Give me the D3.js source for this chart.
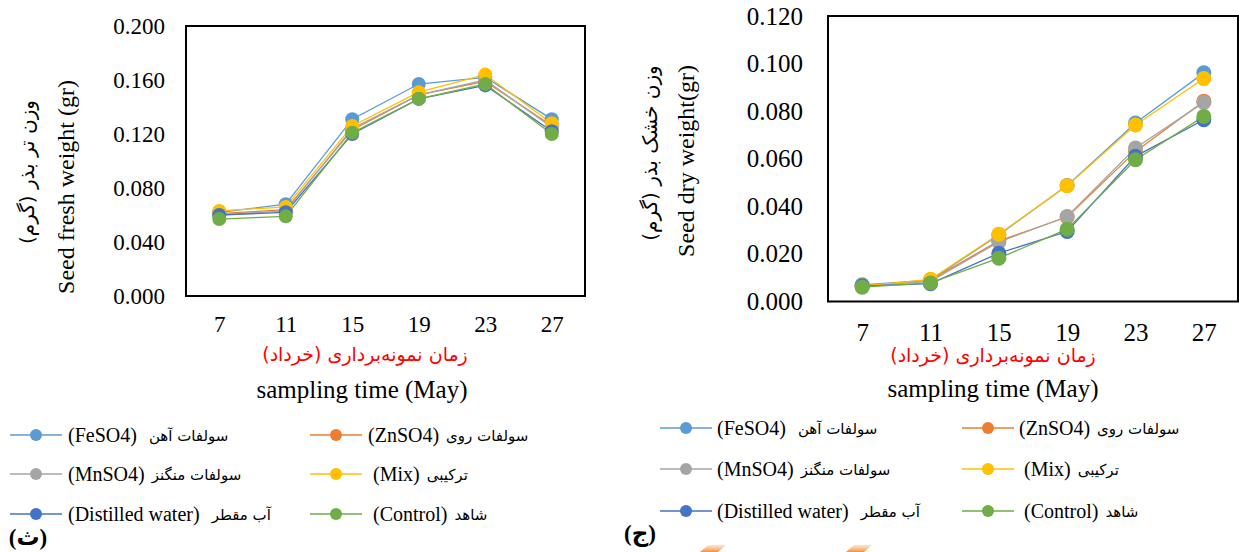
<!DOCTYPE html>
<html><head><meta charset="utf-8">
<script src="https://cdn.jsdelivr.net/npm/d3@7"></script>
<style>
body{margin:0;background:#fff}
svg{display:block}
text{font-family:"Liberation Serif","DejaVu Sans",serif;fill:#000}
text.fa{font-family:"DejaVu Sans",sans-serif}
</style>
</head><body>
<svg id="c" width="1239" height="552"></svg>
<script>
// ---------- data ----------
const categories = ["7","11","15","19","23","27"];
const seriesKeys = ["FeSO4","ZnSO4","MnSO4","Mix","DW","Control"];
const seriesEnglish = ["(FeSO4)","(ZnSO4)","(MnSO4)","(Mix)","(Distilled water)","(Control)"];
const seriesPersian = ["سولفات آهن","سولفات روی","سولفات منگنز","ترکیبی","آب مقطر","شاهد"];

const freshFeSO4   = [0.062, 0.068, 0.131, 0.157, 0.162, 0.131];
const freshZnSO4   = [0.061, 0.064, 0.123, 0.149, 0.159, 0.126];
const freshMnSO4   = [0.060, 0.063, 0.124, 0.149, 0.160, 0.125];
const freshMix     = [0.063, 0.066, 0.126, 0.151, 0.164, 0.128];
const freshDW      = [0.060, 0.062, 0.120, 0.146, 0.156, 0.122];
const freshControl = [0.057, 0.059, 0.121, 0.146, 0.157, 0.120];

const dryFeSO4   = [0.0070, 0.0090, 0.0280, 0.0488, 0.0750, 0.0961];
const dryZnSO4   = [0.0065, 0.0090, 0.0255, 0.0355, 0.0631, 0.0842];
const dryMnSO4   = [0.0065, 0.0085, 0.0250, 0.0357, 0.0645, 0.0837];
const dryMix     = [0.0065, 0.0093, 0.0283, 0.0487, 0.0742, 0.0937];
const dryDW      = [0.0065, 0.0075, 0.0203, 0.0294, 0.0610, 0.0764];
const dryControl = [0.0060, 0.0078, 0.0182, 0.0304, 0.0596, 0.0778];

const freshTicks = [0, 0.04, 0.08, 0.12, 0.16, 0.20];
const dryTicks   = [0, 0.02, 0.04, 0.06, 0.08, 0.10, 0.12];

const freshTitleEn = "Seed fresh weight (gr)";
const freshTitleFa = "وزن تر بذر (گرم)\u200F";
const dryTitleEn   = "Seed dry weight(gr)";
const dryTitleFa   = "وزن خشک بذر (گرم)\u200F";
const xTitleFa = "زمان نمونه\u200Cبرداری (خرداد)\u200F";
const xTitleEn = "sampling time (May)";
const panelLabels = ["(ث)", "(ج)"];

// ---------- styles ----------
const palette = ["#5B9BD5","#ED7D31","#A5A5A5","#FFC000","#4472C4","#70AD47"];
const SERIF = '"Liberation Serif",serif';

const svg = d3.select("#c");
svg.append("rect").attr("width",1239).attr("height",552).attr("fill","#fff");

function drawChart(cfg){
  const g = svg.append("g");
  const x = d3.scalePoint().domain(categories).range([cfg.x0, cfg.x1]).padding(0.5);
  const y = d3.scaleLinear().domain([0, cfg.ymax]).range([cfg.y1, cfg.y0]);

  // box
  g.append("rect").attr("x",cfg.x0).attr("y",cfg.y0)
    .attr("width",cfg.x1-cfg.x0).attr("height",cfg.y1-cfg.y0)
    .attr("fill","none").attr("stroke","#000").attr("stroke-width",2);

  // y axis
  const ya = g.append("g").attr("transform",`translate(${cfg.x0},0)`)
    .call(d3.axisLeft(y).tickValues(cfg.ticks).tickFormat(d3.format(".3f")).tickSize(0).tickPadding(cfg.yPad));
  ya.attr("font-family",SERIF).attr("font-size",cfg.tickFont);
  ya.select(".domain").remove();
  ya.selectAll("text").attr("font-size",cfg.tickFont).style("font-family",SERIF).attr("fill","#000");

  // x axis
  const xa = g.append("g").attr("transform",`translate(0,${cfg.y1})`)
    .call(d3.axisBottom(x).tickSize(0).tickPadding(cfg.xPad));
  xa.attr("font-family",SERIF).attr("font-size",cfg.tickFont);
  xa.select(".domain").remove();
  xa.selectAll("text").attr("font-size",cfg.tickFont).style("font-family",SERIF).attr("fill","#000");

  // lines & markers
  const line = d3.line().x((d,i)=>x(categories[i])).y(d=>y(d));
  cfg.series.forEach((vals,si)=>{
    g.append("path").datum(vals).attr("d",line)
      .attr("fill","none").attr("stroke",palette[si]).attr("stroke-width",1.3);
  });
  cfg.series.forEach((vals,si)=>{
    g.selectAll(null).data(vals).enter().append("circle")
      .attr("cx",(d,i)=>x(categories[i])).attr("cy",d=>y(d))
      .attr("r",cfg.r).attr("fill",palette[si]);
  });

  // y titles
  g.append("text").attr("transform",`translate(${cfg.tEn[0]},${cfg.tEn[1]}) rotate(-90)`)
    .attr("text-anchor","middle").attr("dominant-baseline","central")
    .attr("font-size",24).text(cfg.titleEn);
  g.append("text").attr("class","fa").attr("transform",`translate(${cfg.tFa[0]},${cfg.tFa[1]}) rotate(-90)`)
    .attr("text-anchor","middle").attr("dominant-baseline","central")
    .attr("font-size",20).text(cfg.titleFa);

  // x titles
  g.append("text").attr("class","fa").attr("x",cfg.xFa[0]).attr("y",cfg.xFa[1])
    .attr("text-anchor","middle").attr("dominant-baseline","central")
    .style("fill","#FF0000")
    .attr("font-size",19).text(xTitleFa);
  g.append("text").attr("x",cfg.xEn[0]).attr("y",cfg.xEn[1])
    .attr("text-anchor","middle").attr("dominant-baseline","central")
    .attr("font-size",25).text(xTitleEn);

  // legend
  const order = [0,1,2,3,4,5];
  order.forEach((si,k)=>{
    const col = k % 2, row = Math.floor(k/2);
    const lx = cfg.legX[col], ly = cfg.legY[row];
    const lg = g.append("g");
    lg.append("line").attr("x1",lx).attr("x2",lx+52).attr("y1",ly).attr("y2",ly)
      .attr("stroke",palette[si]).attr("stroke-width",1.5);
    lg.append("circle").attr("cx",lx+26).attr("cy",ly).attr("r",6).attr("fill",palette[si]);
    const extra = (si===3||si===5) ? 5 : 0;
    const tx = lx + cfg.legTextOff + extra;
    const te = lg.append("text").attr("x",tx).attr("y",ly+7).attr("font-size",20)
      .text(seriesEnglish[si]);
    const w = te.node().getComputedTextLength();
    const gap = (si===0||si===4) ? 12 : 7;
    lg.append("text").attr("class","fa").attr("x",tx + w + gap).attr("y",ly+6)
      .attr("font-size",15).text(seriesPersian[si]);
  });

  // panel label
  g.append("text").attr("x",cfg.pl[0]).attr("y",cfg.pl[1])
    .attr("text-anchor","middle").attr("dominant-baseline","central")
    .attr("font-weight","bold").attr("font-size",23).text(cfg.panel);
}

drawChart({
  x0:186, x1:585, y0:26, y1:296, ymax:0.2, ticks:freshTicks, yPad:21, xPad:19.5, r:7, tickFont:23,
  series:[freshFeSO4,freshZnSO4,freshMnSO4,freshMix,freshDW,freshControl],
  titleEn:freshTitleEn, titleFa:freshTitleFa, tEn:[66,187], tFa:[27,172],
  xFa:[365,354], xEn:[362,389],
  legX:[10,310], legY:[435,474,514], legTextOff:58,
  pl:[28,537], panel:panelLabels[0]
});
drawChart({
  x0:828, x1:1238, y0:16, y1:301.5, ymax:0.12, ticks:dryTicks, yPad:25, xPad:22, r:7.5, tickFont:25,
  series:[dryFeSO4,dryZnSO4,dryMnSO4,dryMix,dryDW,dryControl],
  titleEn:dryTitleEn, titleFa:dryTitleFa, tEn:[686,161], tFa:[650,153],
  xFa:[993,355], xEn:[993,388],
  legX:[660,962], legY:[428,469,511], legTextOff:57,
  pl:[640,533], panel:panelLabels[1]
});

// faint orange watermark strokes at the bottom
const defs = svg.append("defs");
const gr = defs.append("linearGradient").attr("id","wm").attr("x1","0").attr("y1","1").attr("x2","0").attr("y2","0");
gr.append("stop").attr("offset","0").attr("stop-color","#F58220").attr("stop-opacity",0.9);
gr.append("stop").attr("offset","1").attr("stop-color","#F9C9A0").attr("stop-opacity",0.5);
[[700,545],[846,545]].forEach(([wx,wy])=>{
  svg.append("path").attr("d",`M${wx},552 L${wx+8},${wy} L${wx+26},${wy} L${wx+18},552 Z`).attr("fill","url(#wm)");
});
</script>
</body></html>
